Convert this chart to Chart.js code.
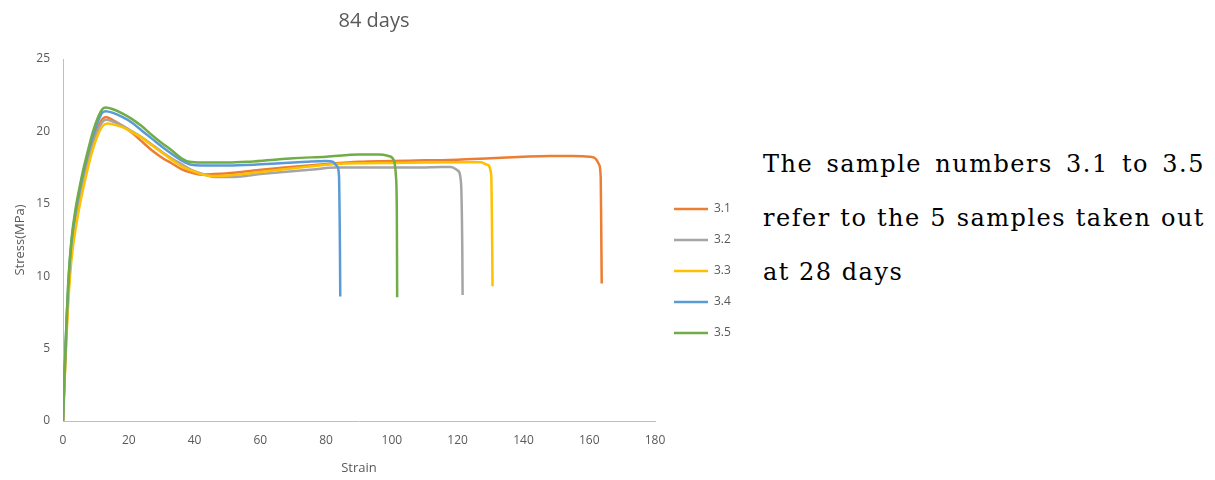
<!DOCTYPE html>
<html>
<head>
<meta charset="utf-8">
<script src="https://cdn.jsdelivr.net/npm/chart.js@4.4.0/dist/chart.umd.min.js"></script>
<style>
  html, body { margin: 0; padding: 0; background: #ffffff; }
  #wrap { position: absolute; left: 0; top: 0; width: 740px; height: 480px; }
  #note {
    position: absolute; left: 763px; top: 137px; width: 442px;
    font-family: "DejaVu Serif", "Liberation Serif", serif; font-size: 24px;
    letter-spacing: 1.5px; line-height: 54px; color: #000;
  }
  #note .j { text-align: justify; text-align-last: justify; }
  #note .l { text-align: left; }
</style>
</head>
<body>
<div id="wrap"><canvas id="c"></canvas></div>
<div id="note"><div class="j">The sample numbers 3.1 to 3.5</div><div class="j">refer to the 5 samples taken out</div><div class="l">at 28 days</div></div>
<script>
const chartTitle = "84 days";
const xAxisTitle = "Strain";
const yAxisTitle = "Stress(MPa)";
const seriesNames = ["3.1", "3.2", "3.3", "3.4", "3.5"];
const seriesColors = ["#ED7D31", "#A5A5A5", "#FFC000", "#5B9BD5", "#70AD47"];

const s31Strain = [0, 0.4, 1.1, 1.6, 2.6, 4, 5, 6, 7.5, 9, 10.5, 12, 13, 15, 18, 21, 24, 27, 30, 33, 36, 39, 42, 46, 52, 58, 65, 72, 80, 90, 100, 110, 120, 130, 140, 148, 155, 160, 162, 163, 163.5, 163.7, 163.8];
const s31Stress = [0, 2.6, 6.6, 8.9, 11.9, 14.2, 15.4, 16.5, 17.9, 19.2, 20.2, 20.85, 21.0, 20.8, 20.4, 19.9, 19.3, 18.7, 18.2, 17.8, 17.4, 17.15, 17.0, 17.05, 17.15, 17.3, 17.45, 17.6, 17.75, 17.9, 17.95, 18.0, 18.05, 18.15, 18.25, 18.3, 18.3, 18.25, 18.1, 17.7, 16.8, 12.0, 9.5];

const s32Strain = [0, 0.4, 1.1, 1.6, 2.6, 4, 5, 6, 7.5, 9, 10.5, 12, 13, 15, 18, 21, 24, 27, 30, 33, 36, 39, 42, 46, 52, 60, 67, 75, 83, 92, 100, 108, 115, 118, 120, 121, 121.4, 121.5];
const s32Stress = [0, 2.5, 6.4, 8.7, 11.7, 14.0, 15.2, 16.3, 17.7, 19.0, 20.0, 20.65, 20.8, 20.7, 20.4, 20.0, 19.6, 19.1, 18.6, 18.15, 17.75, 17.35, 17.1, 16.85, 16.85, 17.05, 17.2, 17.35, 17.5, 17.5, 17.5, 17.5, 17.55, 17.55, 17.3, 16.5, 12.0, 8.7];

const s33Strain = [0, 0.4, 1.1, 1.6, 2.6, 4, 5, 6, 7.5, 9, 10.5, 12, 13.5, 15, 18, 21, 24, 27, 30, 33, 36, 39, 42, 45, 50, 58, 66, 74, 83, 92, 100, 110, 120, 127, 129, 130.2, 130.5, 130.6];
const s33Stress = [0, 2.2, 6.0, 8.2, 11.2, 13.5, 14.8, 15.9, 17.4, 18.7, 19.7, 20.35, 20.55, 20.5, 20.3, 19.95, 19.55, 19.05, 18.55, 18.05, 17.6, 17.3, 17.05, 16.92, 16.95, 17.15, 17.35, 17.55, 17.75, 17.8, 17.82, 17.85, 17.87, 17.87, 17.7, 17.0, 12.0, 9.3];

const s34Strain = [0, 0.4, 1.1, 1.6, 2.6, 4, 5, 6, 7.5, 9, 10.5, 12, 13, 15, 18, 21, 24, 27, 30, 33, 36, 39, 42, 50, 58, 66, 74, 80, 82, 83.3, 83.9, 84.2, 84.3];
const s34Stress = [0, 2.8, 7.0, 9.4, 12.4, 14.7, 15.9, 17.0, 18.4, 19.6, 20.6, 21.3, 21.4, 21.3, 21.0, 20.6, 20.05, 19.5, 18.95, 18.45, 18.0, 17.7, 17.65, 17.65, 17.7, 17.8, 17.9, 17.95, 17.9, 17.6, 17.0, 12.0, 8.6];

const s35Strain = [0, 0.4, 1.1, 1.6, 2.6, 4, 5, 6, 7.5, 9, 10.5, 12, 13, 15, 18, 21, 24, 27, 30, 33, 36, 38.5, 42, 50, 56, 62, 70, 80, 90, 96, 99, 100.6, 101.2, 101.5, 101.6];
const s35Stress = [0, 2.9, 7.1, 9.6, 12.6, 14.9, 16.1, 17.2, 18.6, 19.9, 20.9, 21.55, 21.65, 21.55, 21.25, 20.85, 20.35, 19.75, 19.2, 18.7, 18.15, 17.9, 17.85, 17.85, 17.9, 18.0, 18.15, 18.25, 18.4, 18.4, 18.3, 18.0, 17.0, 14.5, 8.55];

const xTickMin = 0, xTickMax = 180, xTickStep = 20;
const yTickMin = 0, yTickMax = 25, yTickStep = 5;

const strainSets = [s31Strain, s32Strain, s33Strain, s34Strain, s35Strain];
const stressSets = [s31Stress, s32Stress, s33Stress, s34Stress, s35Stress];

const datasets = seriesNames.map((name, i) => ({
  label: name,
  data: strainSets[i].map((x, j) => ({ x: x, y: stressSets[i][j] })),
  borderColor: seriesColors[i],
  backgroundColor: seriesColors[i],
  borderWidth: 2.5,
  pointRadius: 0,
  showLine: true,
  fill: false,
  cubicInterpolationMode: 'monotone',
  order: seriesNames.length - 1 - i
}));

const textColor = '#595959';
const axisColor = '#BFBFBF';
const font = 'Open Sans';

new Chart(document.getElementById('c'), {
  type: 'scatter',
  data: { datasets: datasets },
  options: {
    responsive: true,
    maintainAspectRatio: false,
    animation: false,
    layout: { padding: { left: 8, right: 0, top: 0, bottom: 0 } },
    plugins: {
      title: {
        display: true,
        text: chartTitle,
        color: textColor,
        font: { family: font, size: 20, weight: 'normal' },
        padding: { top: 9, bottom: 26 }
      },
      legend: {
        display: true,
        position: 'right',
        align: 'center',
        maxWidth: 85,
        title: { display: true, text: '', font: { size: 10 }, padding: { top: 25, bottom: 25 } },
        labels: {
          usePointStyle: true,
          pointStyle: 'line',
          pointStyleWidth: 34,
          padding: 19,
          color: textColor,
          font: { family: font, size: 12 },
          sort: (a, b) => a.datasetIndex - b.datasetIndex
        }
      },
      tooltip: { enabled: false }
    },
    scales: {
      x: {
        type: 'linear',
        min: xTickMin, max: xTickMax,
        grid: { display: false, drawTicks: false },
        border: { display: true, color: axisColor, width: 1 },
        ticks: { stepSize: xTickStep, color: textColor, font: { family: font, size: 12 }, padding: 12, maxRotation: 0 },
        title: { display: true, text: xAxisTitle, color: textColor, font: { family: font, size: 13 }, padding: { top: 4, bottom: 4 } },
        afterFit: (s) => { s.height = 59; }
      },
      y: {
        type: 'linear',
        min: yTickMin, max: yTickMax,
        grid: { display: false, drawTicks: false },
        border: { display: true, color: axisColor, width: 1 },
        ticks: { stepSize: yTickStep, color: textColor, font: { family: font, size: 12 }, padding: 13 },
        title: { display: true, text: yAxisTitle, color: textColor, font: { family: font, size: 13 }, padding: { top: 4, bottom: 4 } },
        afterFit: (s) => { s.width = 55; }
      }
    }
  }
});
</script>
</body>
</html>
